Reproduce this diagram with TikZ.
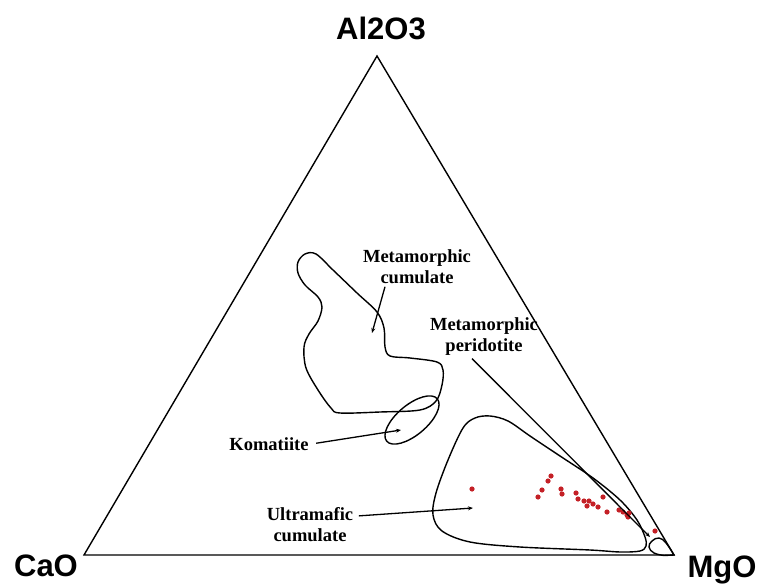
\documentclass[tikz,border=0pt]{standalone}
\usepackage{fontspec}
\setmainfont{Liberation Serif}
\newfontfamily\oxidefont{Liberation Sans}
\usetikzlibrary{arrows.meta}
\definecolor{dotred}{RGB}{196,32,38}
\begin{document}
\begin{tikzpicture}[x=1pt, y=-1pt, line width=1.4pt,
    lbl/.style={font=\bfseries\fontsize{18.5}{21}\selectfont, align=center, inner sep=2pt},
    oxide/.style={font=\oxidefont\bfseries\fontsize{31}{31}\selectfont, anchor=base},
    pointer/.style={line width=1.3pt, -{Stealth[length=5pt, width=4pt]}}]
  \useasboundingbox (0,0) rectangle (760,585);
  % triangle
  \coordinate (al) at (377,56);
  \coordinate (ca) at (84,555);
  \coordinate (mg) at (674,555);
  \draw (ca) -- (al) -- (mg) -- cycle;
  \node[oxide] (alo) at (381,40) {Al2O3};
  \node[oxide] (cao) at (46,576) {CaO};
  \node[oxide] (mgo) at (722,577) {MgO};
  % fields
  \draw plot[smooth cycle, tension=0.55] coordinates {(298,262) (305,254) (316,254) (333,270)
    (357,293) (377,312) (384,328) (385,347) (390,356) (410,358) (437,362) (443,370)
    (442,385) (436,401) (420,410) (380,412) (340,413) (331,408) (318,390) (306,368)
    (304,347) (309,334) (318,321) (322,307) (318,297) (305,285) (298,273)};
  \draw[rotate around={40:(412,420)}] (412,420) ellipse (33pt and 15pt);
  \draw plot[smooth cycle, tension=0.55] coordinates {(463,428) (475,418) (490,416)
    (508,421) (530,436) (560,456) (593,478) (620,500) (637,520) (645,537) (646,546)
    (640,551) (620,552) (590,550) (520,547) (470,542) (442,531) (433,515) (436,493)
    (448,460)};
  \draw plot[smooth, tension=0.7] coordinates {(674,555) (666,543) (659,538) (652,541)
    (649,547) (654,553) (664,555.5)} -- cycle;
  % samples
  \foreach \x/\y in {472/489, 551/476, 548/481, 542/490, 538/497, 561/489, 562/494,
      576/493, 578/499, 584/501, 589/501, 587/506, 593/504, 598/507, 603/497, 607/512,
      619/510, 623/512, 627/515, 629/513, 628/517, 655/531}
    \fill[dotred] (\x,\y) circle (2.6pt);
  % labels
  \node[lbl] (mcumul) at (417,267) {Metamorphic\\cumulate};
  \node[lbl] (mperid) at (484,337) {Metamorphic\\peridotite};
  \node[lbl] (komat) at (269,444) {Komatiite};
  \node[lbl] (umcumul) at (310,525) {Ultramafic\\cumulate};
  \coordinate (mc-tip) at (372,333);
  \coordinate (mp-tip) at (650,537);
  \coordinate (ko-tip) at (401,430);
  \coordinate (uc-tip) at (473,508);
  \draw[pointer] ([xshift=-32pt]mcumul.south) -- (mc-tip);
  \draw[pointer] ([xshift=-12pt]mperid.south) -- (mp-tip);
  \draw[pointer, shorten <=5pt] (komat.east) -- (ko-tip);
  \draw[pointer, shorten <=3pt] (umcumul.11) -- (uc-tip);
\end{tikzpicture}
\end{document}
